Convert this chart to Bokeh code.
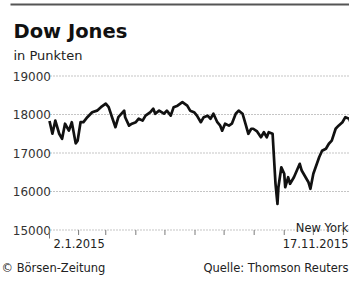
import pandas as pd
from bokeh.plotting import figure
from bokeh.models import Range1d, Label
from bokeh.core.properties import value
from bokeh.embed import file_html
from bokeh.resources import INLINE

# ---- data ----
startdatum = "2015-01-02"
tage = [0, 3, 6, 10, 13, 16, 20, 23, 27, 29, 32, 35, 39, 44, 49, 53, 58, 61, 65, 68,
        71, 77, 78, 82, 85, 89, 92, 96, 99, 104, 107, 109, 113, 118, 121, 125, 128, 132,
        137, 142, 145, 149, 152, 156, 159, 163, 166, 169, 173, 176, 178, 181, 185, 188,
        192, 195, 199, 202, 205, 208, 210, 214, 218, 221, 224, 226, 230, 231, 233, 235,
        236, 239, 242, 243, 246, 248, 252, 255, 258, 260, 264, 267, 269, 272, 278, 281,
        285, 288, 291, 295, 298, 302, 305, 309, 312, 315, 318, 319]
punkte = [17830, 17500, 17840, 17500, 17370, 17760, 17580, 17800, 17250, 17320, 17800,
          17800, 17930, 18060, 18100, 18190, 18280, 18190, 17890, 17670, 17930, 18100,
          17930, 17710, 17760, 17800, 17890, 17840, 17970, 18060, 18150, 18020, 18100,
          18020, 18100, 17970, 18190, 18230, 18320, 18230, 18100, 18060, 17970, 17800,
          17930, 17970, 17890, 18020, 17800, 17710, 17580, 17760, 17710, 17760, 18020,
          18100, 18020, 17760, 17500, 17630, 17630, 17560, 17410, 17540, 17410, 17540,
          17500, 17060, 16200, 15680, 16110, 16630, 16460, 16110, 16370, 16200, 16370,
          16545, 16720, 16545, 16370, 16240, 16070, 16460, 16890, 17060, 17110, 17240,
          17320, 17630, 17710, 17800, 17930, 17890, 17670, 17320, 17480, 17490]
y_werte = [15000, 16000, 17000, 18000, 19000]
y_beschriftung = ["15000", "16000", "17000", "18000", "19000"]
monatsanfaenge = ["2015-02-01", "2015-03-01", "2015-04-01", "2015-05-01",
                  "2015-06-01", "2015-07-01", "2015-08-01", "2015-09-01",
                  "2015-10-01", "2015-11-01"]
titel = "Dow Jones"
untertitel = "in Punkten"
datum_start = "2.1.2015"
datum_ende = "17.11.2015"
ort = "New York"
copyright_text = "\u00a9 B\u00f6rsen-Zeitung"
quelle = "Quelle: Thomson Reuters"

t0 = pd.Timestamp(startdatum)
x = [t0 + pd.Timedelta(days=d) for d in tage]

W, H = 349, 281
X0, KX = 49.0, 0.97        # pixel of start date, pixels per day
Y18, KY = 114.0, 0.0385    # pixel row of 18000, pixels per point


def px(col):
    """pixel column -> epoch ms on the time scale (layout helper)"""
    return (t0 + pd.Timedelta(days=(col - X0) / KX)).value / 1e6


def py(row):
    """pixel row -> value on the point scale (layout helper)"""
    return 18000 + (Y18 - row) / KY


FONT = "DejaVu Sans"
GRAU = "#8a8a8a"
TEXT = "#222222"

p = figure(width=W, height=H,
           output_backend="svg", toolbar_location=None,
           x_axis_location=None, y_axis_location=None,
           x_range=Range1d(px(0), px(W)),
           y_range=Range1d(py(H), py(0)),
           min_border=0)
p.outline_line_color = None
p.background_fill_color = "white"
p.border_fill_color = "white"
p.xgrid.grid_line_color = None
p.ygrid.grid_line_color = None

# horizontal dotted grid lines at the tick values
n = len(y_werte)
p.segment(x0=[px(50)] * n, x1=[px(W + 10)] * n, y0=y_werte, y1=y_werte,
          line_color=GRAU, line_width=1, line_dash="1 2")

# y tick labels
p.text(x=[px(50.5)] * n, y=y_werte, text=y_beschriftung,
       text_align="right", text_baseline="middle",
       text_font=value(FONT), text_font_size="12px", text_color="#333333")

# month ticks on the baseline
tick_x = [pd.Timestamp(m) for m in monatsanfaenge]
m = len(tick_x)
p.segment(x0=tick_x, x1=tick_x, y0=[y_werte[0]] * m, y1=[py(234.5)] * m,
          line_color="#7a7a7a", line_width=1)
p.segment(x0=[t0], x1=[t0], y0=[y_werte[0]], y1=[py(238)],
          line_color="#7a7a7a", line_width=1)

# series
p.line(x, punkte, line_color="#111111", line_width=2.7, line_join="round")

# top rule
p.segment(x0=[px(10)], x1=[px(W + 10)], y0=[py(4)], y1=[py(4)],
          line_color="#555555", line_width=2)

# texts
p.add_layout(Label(x=px(13), y=py(30.5), text=titel, text_font=FONT,
                   text_font_style="bold", text_font_size="19.5px", text_color="#111111",
                   text_baseline="alphabetic"))
p.add_layout(Label(x=px(13), y=py(55), text=untertitel, text_font=FONT,
                   text_font_size="13px", text_color=TEXT, text_baseline="alphabetic"))
p.add_layout(Label(x=px(53), y=py(243), text=datum_start, text_font=FONT,
                   text_font_size="11.5px", text_color=TEXT, text_baseline="alphabetic"))
p.add_layout(Label(x=px(W - 1), y=py(243), text=datum_ende, text_font=FONT,
                   text_font_size="11.5px", text_color=TEXT, text_baseline="alphabetic",
                   text_align="right"))
p.add_layout(Label(x=px(W - 1), y=py(227), text=ort, text_font=FONT,
                   text_font_size="11.5px", text_color=TEXT, text_baseline="alphabetic",
                   text_align="right"))
p.add_layout(Label(x=px(1), y=py(267), text=copyright_text, text_font=FONT,
                   text_font_size="11.5px", text_color=TEXT, text_baseline="alphabetic"))
p.add_layout(Label(x=px(W - 1), y=py(267), text=quelle, text_font=FONT,
                   text_font_size="11.5px", text_color=TEXT, text_baseline="alphabetic",
                   text_align="right"))

open("out.html", "w").write(file_html(p, INLINE))
